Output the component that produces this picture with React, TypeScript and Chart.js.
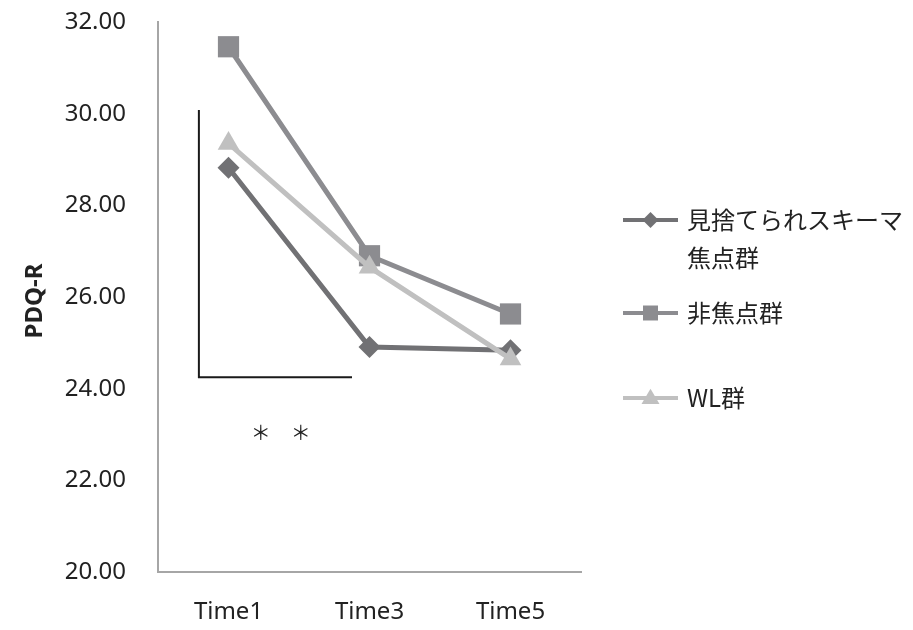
import { useEffect, useRef } from 'react';
import { Chart, registerables } from 'chart.js';

Chart.register(...registerables);

// Measurement occasions
const categories = ['Time1', 'Time3', 'Time5'];

// Group names (legend)
const abandonName = ['見捨てられスキーマ', '焦点群'];
const nonFocusName = ['非焦点群'];
const waitListName = ['WL群'];

// PDQ-R mean scores per group
const abandonFocus = [28.82, 24.91, 24.84];
const nonFocus = [31.46, 26.9, 25.63];
const waitList = [29.35, 26.65, 24.65];

// Y axis range and label
const yMin = 20;
const yMax = 32;
const yStep = 2;
const yTitle = 'PDQ-R';

// Significance bracket (category index / score units) and its mark
const bracketX = [-0.21, 0.876];
const bracketY = [30.08, 24.25];
const sigMark = '＊　＊';
const sigPos = [0.37, 23.05];

const COLORS = {
  abandon: '#717174',
  nonFocus: '#8c8c90',
  waitList: '#c0c0c0',
  axis: '#a6a6a6',
  text: '#222222',
  bracket: '#1a1a1a',
};

const LATIN = '"Noto Sans", "Noto Sans CJK JP", sans-serif';
const CJK = '"Noto Sans CJK JP", "Noto Sans", sans-serif';

type Shape = 'rectRot' | 'rect' | 'triangle';

function drawMarker(ctx: CanvasRenderingContext2D, shape: Shape, x: number, y: number, r: number, color: string) {
  ctx.save();
  ctx.fillStyle = color;
  ctx.beginPath();
  if (shape === 'rectRot') {
    ctx.moveTo(x, y - r);
    ctx.lineTo(x + r, y);
    ctx.lineTo(x, y + r);
    ctx.lineTo(x - r, y);
  } else if (shape === 'rect') {
    ctx.rect(x - r, y - r, 2 * r, 2 * r);
  } else {
    const h = r * 1.7;
    ctx.moveTo(x, y - h * 0.6);
    ctx.lineTo(x + r, y + h * 0.4);
    ctx.lineTo(x - r, y + h * 0.4);
  }
  ctx.closePath();
  ctx.fill();
  ctx.restore();
}

const overlayPlugin = {
  id: 'overlay',
  afterDatasetsDraw(chart: any) {
    const ctx: CanvasRenderingContext2D = chart.ctx;
    const xs = chart.scales.x;
    const ys = chart.scales.y;
    // bracket
    const x0 = xs.getPixelForValue(bracketX[0]);
    const x1 = xs.getPixelForValue(bracketX[1]);
    const yTop = ys.getPixelForValue(bracketY[0]);
    const yBot = ys.getPixelForValue(bracketY[1]);
    ctx.save();
    ctx.strokeStyle = COLORS.bracket;
    ctx.lineWidth = 2;
    ctx.beginPath();
    ctx.moveTo(x0, yTop);
    ctx.lineTo(x0, yBot);
    ctx.lineTo(x1, yBot);
    ctx.stroke();
    // significance mark
    ctx.fillStyle = COLORS.text;
    ctx.font = `20px ${CJK}`;
    ctx.textAlign = 'center';
    ctx.textBaseline = 'middle';
    ctx.fillText(sigMark, xs.getPixelForValue(sigPos[0]), ys.getPixelForValue(sigPos[1]));
    ctx.restore();
  },
  afterDraw(chart: any) {
    const ctx: CanvasRenderingContext2D = chart.ctx;
    const area = chart.chartArea;
    // y axis title
    ctx.save();
    ctx.translate(35, (area.top + area.bottom) / 2 + 4);
    ctx.rotate(-Math.PI / 2);
    ctx.font = `bold 24px ${LATIN}`;
    ctx.fillStyle = COLORS.text;
    ctx.textAlign = 'center';
    ctx.textBaseline = 'middle';
    ctx.fillText(yTitle, 0, 0);
    ctx.restore();

    // legend
    const items: { lines: string[]; color: string; shape: Shape; r: number; y: number }[] = [
      { lines: abandonName, color: COLORS.abandon, shape: 'rectRot', r: 8, y: 220 },
      { lines: nonFocusName, color: COLORS.nonFocus, shape: 'rect', r: 7.5, y: 313 },
      { lines: waitListName, color: COLORS.waitList, shape: 'triangle', r: 9, y: 398 },
    ];
    const lx0 = 623;
    const lx1 = 678;
    const tx = 687;
    items.forEach((it) => {
      ctx.save();
      ctx.strokeStyle = it.color;
      ctx.lineWidth = 4;
      ctx.beginPath();
      ctx.moveTo(lx0, it.y);
      ctx.lineTo(lx1, it.y);
      ctx.stroke();
      ctx.restore();
      drawMarker(ctx, it.shape, (lx0 + lx1) / 2, it.y, it.r, it.color);
      ctx.save();
      ctx.font = `24px ${CJK}`;
      ctx.fillStyle = COLORS.text;
      ctx.textAlign = 'left';
      ctx.textBaseline = 'middle';
      it.lines.forEach((ln, i) => ctx.fillText(ln, tx, it.y + i * 38));
      ctx.restore();
    });
  },
};

export default function App() {
  const ref = useRef<HTMLCanvasElement | null>(null);

  useEffect(() => {
    if (!ref.current) return;
    const chart = new Chart(ref.current, {
      type: 'line',
      data: {
        labels: categories,
        datasets: [
          {
            label: abandonName.join(''),
            data: abandonFocus,
            borderColor: COLORS.abandon,
            backgroundColor: COLORS.abandon,
            borderWidth: 5,
            pointStyle: 'rectRot',
            pointRadius: 11,
            pointBorderWidth: 0,
            order: 2,
          },
          {
            label: nonFocusName.join(''),
            data: nonFocus,
            borderColor: COLORS.nonFocus,
            backgroundColor: COLORS.nonFocus,
            borderWidth: 5,
            pointStyle: 'rect',
            pointRadius: 15,
            pointBorderWidth: 0,
            order: 1,
          },
          {
            label: waitListName.join(''),
            data: waitList,
            borderColor: COLORS.waitList,
            backgroundColor: COLORS.waitList,
            borderWidth: 5,
            pointStyle: 'triangle',
            pointRadius: 12.5,
            pointBorderWidth: 0,
            order: 0,
          },
        ],
      },
      options: {
        responsive: false,
        devicePixelRatio: 1,
        animation: false,
        layout: { padding: { left: 0, right: 332, top: 22, bottom: 0 } },
        plugins: {
          legend: { display: false },
          tooltip: { enabled: false },
          title: { display: false },
        },
        scales: {
          x: {
            type: 'category',
            offset: true,
            grid: { display: false, drawTicks: false },
            border: { display: true, color: COLORS.axis, width: 2 },
            ticks: {
              color: COLORS.text,
              font: { family: LATIN, size: 24 },
              padding: 26,
              maxRotation: 0,
            },
            afterFit: (s: any) => {
              s.height = 58;
            },
          },
          y: {
            type: 'linear',
            min: yMin,
            max: yMax,
            grid: { display: false, drawTicks: false },
            border: { display: true, color: COLORS.axis, width: 2 },
            ticks: {
              stepSize: yStep,
              color: COLORS.text,
              font: { family: LATIN, size: 24 },
              padding: 32,
              callback: (v: any) => Number(v).toFixed(2),
            },
            afterFit: (s: any) => {
              s.width = 158;
              s.paddingTop = 0;
              s.paddingBottom = 0;
            },
          },
        },
      },
      plugins: [overlayPlugin],
    });
    return () => chart.destroy();
  }, []);

  return (
    <div style={{ position: 'fixed', left: 0, top: 0, width: 913, height: 630, background: '#ffffff' }}>
      <canvas ref={ref} width={913} height={630} style={{ width: 913, height: 630 }} />
    </div>
  );
}
